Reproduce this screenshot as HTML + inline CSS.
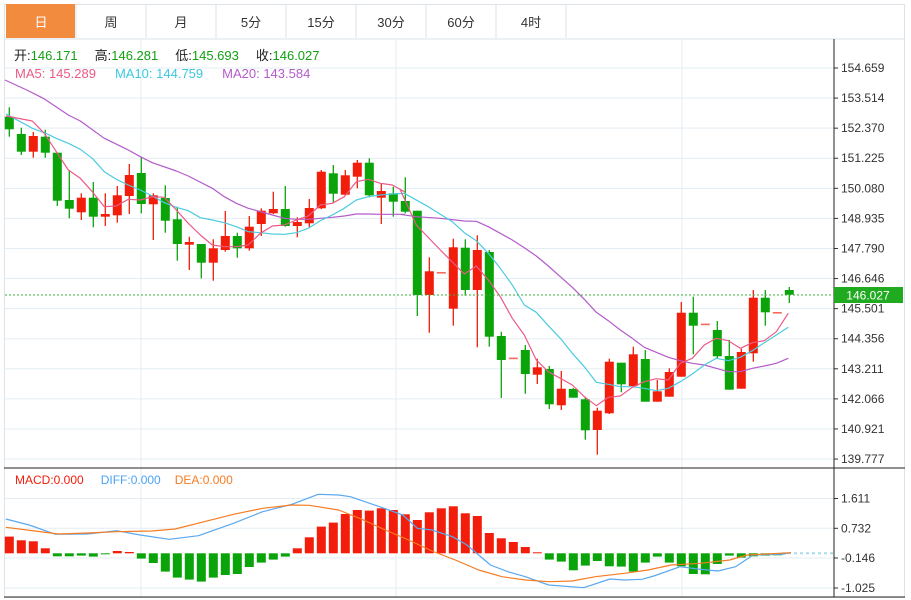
<!DOCTYPE html>
<html><head><meta charset="utf-8">
<style>
html,body{margin:0;padding:0;background:#fff;width:911px;height:600px;overflow:hidden;font-family:"Liberation Sans","Noto Sans CJK SC",sans-serif}
svg{position:absolute;left:0;top:0}
</style></head><body>
<svg id="s" width="911" height="600" xmlns="http://www.w3.org/2000/svg" font-family="Liberation Sans, Noto Sans CJK SC, sans-serif"></svg>
<script>
var S='';
function L(x1,y1,x2,y2,c,w,d){S+='<line x1="'+x1+'" y1="'+y1+'" x2="'+x2+'" y2="'+y2+'" stroke="'+c+'" stroke-width="'+(w||1)+'"'+(d?' stroke-dasharray="'+d+'"':'')+'/>';}
function R(x,y,w,h,c){S+='<rect x="'+x+'" y="'+y+'" width="'+w+'" height="'+h+'" fill="'+c+'"/>';}
function T(x,y,t,c,sz,anc){S+='<text x="'+x+'" y="'+y+'" fill="'+c+'" font-size="'+(sz||12)+'"'+(anc?' text-anchor="'+anc+'"':'')+'>'+t+'</text>';}
S+='<rect x="4.5" y="4.5" width="900" height="593" fill="none" stroke="#dde3e8"/>';
var tabs=['日','周','月','5分','15分','30分','60分','4时'];
for(var i=0;i<8;i++){var x=6+i*70;
 if(i==0)R(6,4,69,34,'#f28b3e');
 L(x+70,4,x+70,38,'#dde3e8');
 T(x+35,27,tabs[i],i==0?'#fff':'#333',13,'middle');}
L(4,39,905,39,'#dde3e8');
var pl=['154.659','153.514','152.370','151.225','150.080','148.935','147.790','146.646','145.501','144.356','143.211','142.066','140.921','139.777'];
var py=[];for(var k=0;k<14;k++)py.push(68+k*30.08);
for(var k=0;k<14;k++){L(5,py[k],834,py[k],'#e3edf3');L(834,py[k],838,py[k],'#333');T(841,py[k]+4,pl[k],'#333',12);}
[141,396,682].forEach(function(x){L(x,39,x,597,'#e3edf3');});
var my=[498.5,528.3,558,588],ml=['1.611','0.732','-0.146','-1.025'];
for(var k=0;k<4;k++){L(5,my[k],834,my[k],'#e3edf3');L(834,my[k],838,my[k],'#333');T(841,my[k]+4,ml[k],'#333',12);}
L(4,468,905,468,'#222');L(4,597,905,597,'#222');L(834,39,834,597,'#222');
var C=[['g',116.7,129.3,107.3,136.7],['g',134,151.7,127.7,155],['r',136,151.7,132,157.7],['g',136.7,152.7,129.7,157.7],['g',152.7,200.7,152.7,206],['g',200,208.7,170,218.3],['r',197.7,212.3,193.3,220],['g',197.7,216.7,182,227.3],['r',214,216.7,193.3,226],['r',195.3,215.3,186,222.7],['r',175,196,164,214],['g',173,204,156.7,213.3],['r',195.3,204.3,193.3,240],['g',198,220.7,185.3,232.7],['g',219.3,244,206.7,260.7],['r',242,244.7,236.7,270],['g',244,262.7,244,278.3],['r',248.3,262.7,239.3,280.7],['r',236,250,211,251.7],['g',236,248.3,232.7,257.7],['r',226.7,248.3,216,250.7],['r',210.7,224,208.3,236],['r',209,213.3,191.7,214],['g',209,226,186,226.7],['r',222,226,217.3,237.3],['r',208,223.3,199,227.3],['r',171.7,208.3,170,209],['g',173.3,193.7,165,202.3],['r',175.3,194.7,170,195.3],['r',162.7,176.7,160,188.3],['g',162.7,195.3,158.3,197.3],['r',191,197.7,184,224],['g',193.3,201.7,186.7,216.7],['g',201,211.7,177.3,213.3],['g',210.7,295,210.7,316],['r',271.3,295,257.3,332.7],['d',272.7,272.7,272.7,272.7],['r',247.3,308.7,238.7,325.7],['g',247.7,290,239.3,295.7],['r',250,290,235.3,347.3],['g',252,336.7,250,346.7],['g',336,360,331.7,398],['d',358.3,358.3,358.3,358.3],['g',350,374,345,393.7],['r',367.3,374.7,358.7,384],['g',369,404.3,366,409],['r',388.7,405.3,371,410],['g',389,397.7,388,397.7],['g',399.3,430.3,396.7,439.7],['r',410.7,430,407.7,454.7],['r',361.7,413.3,358.7,414],['g',362.7,384.3,362.7,392.3],['r',354.3,386,346.7,386.7],['g',359,401.7,350,401.7],['r',391.3,401.7,380,401.7],['r',372,396.7,368.3,396.7],['r',312.7,376.7,302,376.7],['g',312.7,325.7,296.7,354.3],['d',324.3,324.3,324.3,324.3],['g',330,356.3,321,358.3],['g',356,389.7,340,389.7],['r',352,388.7,348.7,388.7],['r',297.7,353.3,290,361.7],['g',297.7,312.3,290,325.7],['d',312.7,312.7,312.7,312.7],['g',290,294.7,287,303]];
var RED='#f21d0a',GRN='#0aa30a';
C.forEach(function(c,i){var x=9.3+12*i;
 if(c[0]=='d'){R(x-4.5,c[1]-0.7,9,1.6,'#f56a5e');return;}
 var col=c[0]=='r'?RED:GRN;
 L(x,c[3],x,c[4],col,1.3);
 R(x-4.5,c[1],9,Math.max(1.5,c[2]-c[1]),col);});
function poly(pts,col,w){S+='<polyline fill="none" stroke="'+col+'" stroke-width="'+(w||1.2)+'" stroke-linejoin="round" points="'+pts.map(function(p){return p[0].toFixed(1)+','+p[1].toFixed(1)}).join(' ')+'"/>';}
function z2(a){var r=[];for(var i=0;i<a.length;i+=2)r.push([a[i]/3,90+a[i+1]/3]);return r;}
function z3(a){var r=[];for(var i=0;i<a.length;i+=2)r.push([400+a[i]/3,150+a[i+1]/3]);return r;}
var ma5=z2([18,78,97,93,133,130,169,185,205,240,241,265,277,305,313,350,349,348,385,328,421,330,457,320,493,322,529,360,565,400,601,435,637,465,673,470,709,470,745,465,781,430,817,408,853,405,889,390,925,378,961,345,997,340,1033,320,1069,275,1105,268,1141,280,1177,285,1213,305]).concat(z3([0,118,49,225,121,300,193,372,229,348,265,390,301,440,337,505,373,555,409,630,445,665,481,685,517,705,553,740,589,767,625,742,661,738,697,712,733,695,769,686,805,690,841,640,877,625,913,585,949,565,985,572,1021,595,1057,578,1093,572,1129,545,1165,490]));
var ma10=z2([18,72,61,95,97,115,133,128,169,145,205,160,241,178,277,205,313,245,349,268,385,285,421,300,457,318,493,338,529,352,565,362,601,383,637,390,673,398,709,410,745,425,781,428,817,432,853,433,889,428,925,415,961,392,997,375,1033,355,1069,330,1105,320,1141,315,1177,312,1213,310]).concat(z3([13,130,85,170,157,215,193,248,229,272,265,310,301,355,337,405,373,465,409,487,445,527,481,565,517,610,553,650,589,697,625,703,661,710,697,710,733,715,769,722,805,715,841,695,877,672,913,645,949,625,985,632,1021,622,1057,602,1093,578,1129,555,1165,532]));
var ma20=[[5,80]].concat(z2([80,0,130,25,205,75,241,93,313,145,385,180,421,200,457,218,529,243,565,258,637,295,673,320,709,340,745,355,817,375,853,385,889,388,925,388,961,385,997,382,1033,378,1069,372,1105,372,1141,373,1177,373,1213,373])).concat(z3([0,193,49,200,121,205,193,213,229,214,265,230,301,250,337,270,373,293,409,318,445,348,481,380,517,412,553,448,589,487,625,512,661,540,697,565,733,592,769,607,805,622,841,632,877,640,913,645,949,655,985,665,1021,665,1057,655,1093,648,1129,640,1165,625]));
poly(ma20,'#b45bc9');poly(ma10,'#4ccbe0');poly(ma5,'#ec5a86');
L(5,295,834,295,'#3dae3d',1,'2,2');
R(834,287,69,16,'#1faa1f');T(868,299.5,'146.027','#fff',12,'middle');
S+='<text y="60" font-size="13"><tspan x="14" fill="#222">开:</tspan><tspan fill="#12a012">146.171</tspan><tspan dx="17" fill="#222">高:</tspan><tspan fill="#12a012">146.281</tspan><tspan dx="17" fill="#222">低:</tspan><tspan fill="#12a012">145.693</tspan><tspan dx="17" fill="#222">收:</tspan><tspan fill="#12a012">146.027</tspan></text>';
S+='<text y="78" font-size="13"><tspan x="15" fill="#ec5a86">MA5: 145.289</tspan><tspan dx="19" fill="#3cc8e0">MA10: 144.759</tspan><tspan dx="19" fill="#b45bc9">MA20: 143.584</tspan></text>';
S+='<text y="484" font-size="12"><tspan x="15" fill="#f21d0a">MACD:0.000</tspan><tspan dx="17" fill="#4aa3f0">DIFF:0.000</tspan><tspan dx="14" fill="#f57c22">DEA:0.000</tspan></text>';
var H=[16.7,13,12,5,-3,-3,-2.3,-3.3,-1,2.3,1.3,-5.3,-9.7,-18.3,-24.3,-26.3,-28.3,-24.3,-21.7,-20.7,-13.7,-9.3,-6.3,-3.3,5,16,26.7,30.7,39.3,43.3,42.7,45,43.3,39,33.3,41,45,47,40,37.3,20.3,15,11.3,6.3,1,-6.3,-8.3,-17,-12.3,-7.7,-13,-13.3,-18.3,-9.3,-3.3,-9.3,-13,-20.7,-21,-10.7,-2.3,-4.3,-3,-2.3,-2];
var z0=553.3;
H.forEach(function(h,i){var x=9.3+12*i;if(h>0)R(x-4.5,z0-h,9,h,RED);else R(x-4.5,z0,9,-h,GRN);});
L(782,z0,834,z0,'#a8dcef',2,'3,3');
function z4(a){var r=[];for(var i=0;i<a.length;i+=2)r.push([a[i]/1.713,465+a[i+1]/3]);return r;}
poly(z4([10,162,50,180,95,208,150,207,200,197,240,210,290,223,340,212,400,175,450,140,500,118,545,88,580,90,600,95,650,125,690,150,715,190,740,195,775,215,800,240,840,300,870,320,900,335,940,360,1000,368,1045,342,1070,345,1100,343,1120,333,1165,305,1195,312,1230,318,1260,305,1290,270,1340,268,1355,263]),'#5aa8f0');
poly(z4([10,187,60,198,100,207,150,204,200,200,260,198,300,192,350,170,400,148,450,130,500,120,530,121,580,135,620,163,660,195,700,225,740,258,780,285,820,315,860,335,900,345,940,350,980,348,1020,335,1070,325,1110,315,1150,300,1200,295,1250,285,1280,270,1355,263]),'#f57c22');
document.getElementById('s').innerHTML=S;
</script>
</body></html>
